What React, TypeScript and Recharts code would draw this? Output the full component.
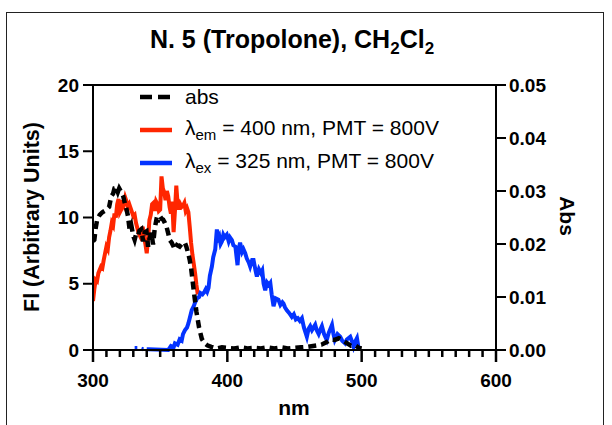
import React from "react";
import { LineChart, Line, XAxis, YAxis, ReferenceLine } from "recharts";

// x ticks (major every 100 nm, minor every 10 nm)
const minorTicks = [300, 310, 320, 330, 340, 350, 360, 370, 380, 390, 400, 410, 420, 430, 440, 450, 460, 470, 480, 490, 500, 510, 520, 530, 540, 550, 560, 570, 580, 590, 600];
const flTicks = [0, 5, 10, 15, 20];
const absTicks = [0, 0.01, 0.02, 0.03, 0.04, 0.05];

// absorbance (right axis)
const absNm = [300, 301, 302, 303, 305, 307, 309, 310, 312, 313.6, 315, 316, 317.4, 318.5, 319.5, 321, 322.5, 323.6, 325, 326, 327.4, 328.6, 330, 331, 332, 333.5, 334.5, 336, 337.3, 338.5, 339.8, 341, 342, 343.5, 344.7, 346, 347.2, 348.5, 349.7, 351, 352.2, 353.5, 354.6, 356, 357, 358.5, 360, 360.8, 362.5, 364.5, 366, 368.3, 369.5, 370.8, 372, 373, 375, 377, 379, 381, 383, 385, 388, 392, 396, 400, 405, 410, 415, 420, 425, 430, 435, 440, 445, 450, 455, 460, 465, 470, 474, 477, 480, 483, 486, 489, 492, 495, 498, 500];
const absVal = [0.0205, 0.0208, 0.023, 0.0245, 0.0255, 0.026, 0.0263, 0.0265, 0.027, 0.029, 0.0295, 0.0305, 0.0306, 0.0298, 0.0305, 0.0298, 0.029, 0.0278, 0.0265, 0.0253, 0.0225, 0.0234, 0.0215, 0.0208, 0.0218, 0.0215, 0.0225, 0.0228, 0.0205, 0.0222, 0.0224, 0.0195, 0.021, 0.0221, 0.0199, 0.023, 0.0246, 0.0245, 0.0253, 0.0248, 0.0246, 0.024, 0.0234, 0.022, 0.0208, 0.0203, 0.0195, 0.019, 0.0198, 0.0195, 0.02, 0.0203, 0.0195, 0.0183, 0.017, 0.0155, 0.0112, 0.0072, 0.0042, 0.0021, 0.0013, 0.0009, 0.0006, 0.0003, 0.0005, 0.0004, 0.0003, 0.0005, 0.0003, 0.0004, 0.0003, 0.0005, 0.0003, 0.0005, 0.0003, 0.0004, 0.0005, 0.0006, 0.0008, 0.001, 0.0015, 0.002, 0.0019, 0.0022, 0.0018, 0.0013, 0.0008, 0.0009, 0.0004, 0.0003];

// emission, lambda ex = 400 nm (left axis)
const emNm = [300, 301, 302, 303, 304, 306, 307, 308, 310, 311, 312, 313, 314, 315, 316, 317, 318, 319, 320, 321, 322, 323, 324, 325, 326, 327, 328, 329, 330, 331, 332, 333, 334, 335, 336, 337, 338, 339, 340, 341, 342, 343, 344, 345, 346, 347, 348, 349, 350, 351, 352, 353, 354, 355, 356, 357, 358, 359, 360, 361, 362, 363, 364, 365, 366, 367, 368, 369, 370, 371, 372, 373, 374, 375, 376, 377, 378];
const emVal = [3.7, 4.6, 5.3, 5.2, 5.8, 6.3, 6.2, 6.8, 7.8, 7.6, 8.5, 9.0, 9.6, 9.4, 10.3, 10.0, 11.0, 11.4, 10.4, 10.6, 11.3, 11.0, 11.5, 11.2, 10.8, 11.0, 10.7, 10.4, 10.1, 10.2, 9.6, 9.2, 8.8, 8.6, 9.0, 9.3, 8.5, 8.0, 7.3, 8.4, 9.8, 10.2, 11.0, 11.1, 10.5, 11.2, 11.0, 10.5, 10.6, 13.1, 12.2, 11.9, 11.3, 12.0, 11.6, 10.8, 10.3, 11.2, 8.9, 10.5, 12.4, 11.0, 10.6, 11.0, 10.8, 10.9, 11.1, 10.5, 10.7, 10.4, 9.3, 8.1, 7.2, 6.5, 5.8, 4.9, 4.2];

// excitation, lambda em = 325 nm (left axis); null = gap
const exNm = [331, 333, 334, 336, 337.5, 338, 340, 341.5, 356, 358, 360, 361, 363, 364.5, 366, 367, 368.5, 370, 371, 372, 373.5, 375, 376, 377.5, 379, 380, 381.5, 383, 384, 385, 386, 387, 388.5, 389.5, 391, 392.2, 393, 394, 395, 396, 397, 398, 399.6, 401, 402, 403.4, 404.5, 406, 407, 407.6, 408.5, 409.5, 411, 412, 413.3, 414.5, 416, 417, 418.5, 419.5, 421, 422, 423.5, 425, 426, 427, 428.2, 429.5, 431, 432, 433, 434.4, 436, 438, 439.5, 441, 441.8, 443, 444.3, 446, 448, 449.5, 451, 452.5, 454, 455.5, 457, 459.2, 460.5, 461.7, 463, 465.4, 466.5, 468, 469.5, 470.4, 472, 474, 475.5, 477.9, 479, 480, 482, 484, 485.5, 487.7, 489, 491.5, 493, 494, 495.5, 496.5, 497.7];
const exVal = [0.15, 0.15, null, 0.1, 0.05, null, 0.05, 0.05, 0.0, 0.3, 0.2, 0.5, 0.4, 0.8, 0.7, 1.2, 1.5, 1.7, 2.0, 2.4, 3.0, 3.3, 3.6, 3.9, 4.0, 4.3, 4.2, 4.4, 4.6, 4.4, 4.7, 5.6, 6.3, 7.0, 7.6, 9.1, 8.4, 8.6, 8.0, 8.2, 8.7, 8.5, 8.7, 8.2, 8.5, 8.3, 7.9, 7.8, 6.9, 6.4, 7.6, 8.1, 7.4, 7.6, 7.3, 6.9, 6.6, 6.3, 6.8, 6.8, 6.0, 5.55, 6.1, 5.8, 6.0, 5.0, 4.5, 5.1, 4.9, 5.05, 4.2, 3.3, 3.9, 3.8, 3.4, 3.6, 3.5, 3.2, 3.0, 2.8, 2.5, 2.7, 2.3, 2.4, 2.2, 2.4, 1.7, 1.0, 1.6, 1.8, 1.5, 1.9, 1.5, 1.2, 1.6, 1.8, 1.2, 0.76, 1.3, 1.9, 1.2, 0.76, 1.2, 1.0, 0.7, 0.5, 0.8, 1.0, 0.6, 0.25, 0.7, 0.9, 0.15];

const absData = absNm.map((nm, i) => ({ nm, abs: absVal[i] }));
const emData = emNm.map((nm, i) => ({ nm, fl: emVal[i] }));
const exData = exNm.map((nm, i) => ({ nm, fl: exVal[i] }));

const RED = "#FF2600";
const BLUE = "#0433FF";
const FONT = "'Liberation Sans', Arial, Helvetica, sans-serif";
const MINOR = 6; // y handed to the tick = axis line + MINOR

// all x tick marks drawn here: short every 10 nm, long + label every 100 nm
const XTick = (props: any) => {
  const { x, y, payload } = props;
  const major = payload.value % 100 === 0;
  const axisY = y - MINOR;
  return (
    <g>
      <path d={`M${x},${axisY - 1}L${x},${axisY + (major ? 12 : 7)}`} stroke="#000" strokeWidth={2.5} fill="none" />
      {major && (
        <text x={x} y={y + 31} textAnchor="middle" fontSize={19} fontWeight="bold" fill="#000" fontFamily={FONT}>
          {payload.value}
        </text>
      )}
    </g>
  );
};

const legendItems = [
  { key: "abs", color: "#000", dashed: true, main: "abs", sub: "", rest: "" },
  { key: "em", color: RED, dashed: false, main: "λ", sub: "em", rest: " = 400 nm, PMT = 800V" },
  { key: "ex", color: BLUE, dashed: false, main: "λ", sub: "ex", rest: " = 325 nm, PMT = 800V" },
];

export default function App() {
  return (
    <div style={{ position: "absolute", left: 0, top: 0, width: 612, height: 425, overflow: "hidden", background: "#fff", fontFamily: FONT }}>
      <div style={{ position: "absolute", left: 6, top: 12, width: 596, height: 440, border: "1.5px solid #222" }} />

      <div style={{ position: "absolute", left: 292, top: 27, transform: "translateX(-50%)", whiteSpace: "nowrap", fontSize: 25, lineHeight: "24px", fontWeight: "bold", color: "#000" }}>
        N. 5 (Tropolone), CH<sub style={{ fontSize: 17 }}>2</sub>Cl<sub style={{ fontSize: 17 }}>2</sub>
      </div>

      <div style={{ position: "absolute", left: 0, top: 0 }}>
        <LineChart width={612} height={425} data={absData} margin={{ top: 85, right: 68, left: 53, bottom: 45 }}>
          <XAxis
            dataKey="nm"
            type="number"
            domain={[300, 600]}
            ticks={minorTicks}
            interval={0}
            allowDataOverflow
            height={30}
            tickSize={MINOR}
            tickMargin={0}
            tickLine={false}
            axisLine={{ stroke: "#000", strokeWidth: 2 }}
            tick={<XTick />}
          />
          <YAxis
            yAxisId="left"
            domain={[0, 20]}
            ticks={flTicks}
            interval={0}
            width={40}
            tickSize={10}
            tickMargin={4}
            axisLine={{ stroke: "#000", strokeWidth: 2 }}
            tickLine={{ stroke: "#000", strokeWidth: 2 }}
            tick={{ fill: "#000", fontSize: 19, fontWeight: "bold", fontFamily: FONT }}
          />
          <YAxis
            yAxisId="right"
            orientation="right"
            domain={[0, 0.05]}
            ticks={absTicks}
            interval={0}
            width={48}
            tickSize={10}
            tickMargin={3}
            tickFormatter={(v: number) => v.toFixed(2)}
            axisLine={{ stroke: "#000", strokeWidth: 2 }}
            tickLine={{ stroke: "#000", strokeWidth: 2 }}
            tick={{ fill: "#000", fontSize: 19, fontWeight: "bold", fontFamily: FONT }}
          />
          <ReferenceLine yAxisId="left" y={20} stroke="#000" strokeWidth={2} />
          <Line yAxisId="left" data={emData} dataKey="fl" type="linear" stroke={RED} strokeWidth={4} dot={false} isAnimationActive={false} />
          <Line yAxisId="left" data={exData} dataKey="fl" type="linear" stroke={BLUE} strokeWidth={4} dot={false} connectNulls={false} isAnimationActive={false} />
          <Line yAxisId="right" data={absData} dataKey="abs" type="linear" stroke="#000" strokeWidth={4.5} strokeDasharray="8 5" dot={false} isAnimationActive={false} />
        </LineChart>
      </div>

      {legendItems.map((it, i) => (
        <div key={it.key} style={{ position: "absolute", left: 140, top: 97 + i * 33 - 13, height: 26, display: "flex", alignItems: "center", whiteSpace: "nowrap" }}>
          <svg width={32} height={8} style={{ marginRight: 13 }}>
            <line x1={0} x2={32} y1={4} y2={4} stroke={it.color} strokeWidth={4.5} strokeDasharray={it.dashed ? "12 6" : undefined} />
          </svg>
          <span style={{ fontSize: 21, color: "#000" }}>
            {it.main}
            {it.sub && <sub style={{ fontSize: 15 }}>{it.sub}</sub>}
            {it.rest}
          </span>
        </div>
      ))}

      <div style={{ position: "absolute", left: 32, top: 217, transform: "translate(-50%, -50%) rotate(-90deg)", whiteSpace: "nowrap", fontSize: 21.5, fontWeight: "bold", color: "#000" }}>
        Fl (Arbitrary Units)
      </div>
      <div style={{ position: "absolute", left: 567, top: 216, transform: "translate(-50%, -50%) rotate(90deg)", whiteSpace: "nowrap", fontSize: 21, fontWeight: "bold", color: "#000" }}>
        Abs
      </div>
      <div style={{ position: "absolute", left: 294, top: 408, transform: "translate(-50%, -50%)", whiteSpace: "nowrap", fontSize: 21, fontWeight: "bold", color: "#000" }}>
        nm
      </div>
    </div>
  );
}
